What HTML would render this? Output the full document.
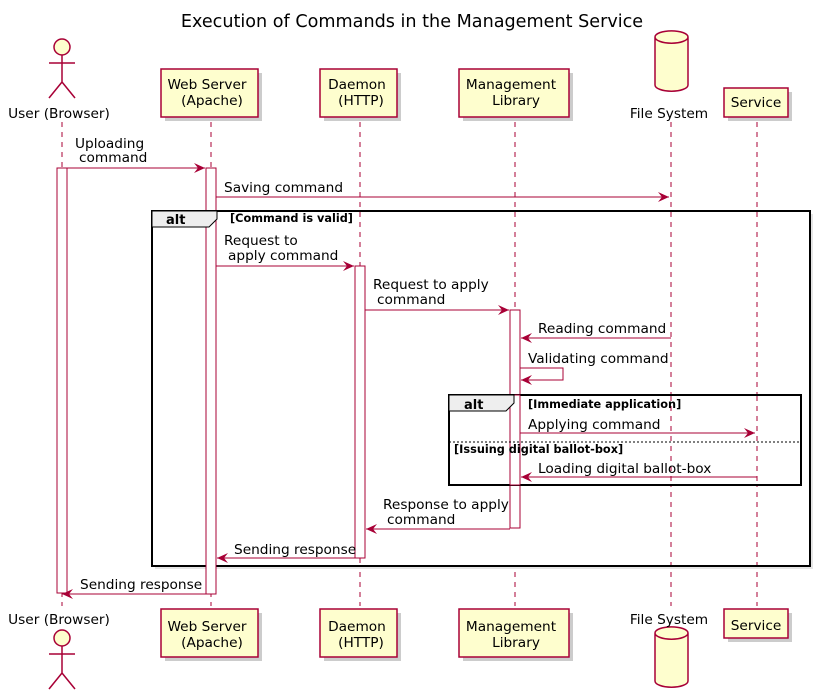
<!DOCTYPE html>
<html><head><meta charset="utf-8"><style>body{margin:0;background:#fff}svg{display:block}text{font-family:"DejaVu Sans","Liberation Sans",sans-serif;font-size:13.7px;fill:#000}</style></head><body>
<svg width="821" height="698" viewBox="0 0 821 698" xmlns="http://www.w3.org/2000/svg">
<defs>
<marker id="a" markerWidth="12" markerHeight="10" refX="11" refY="5" orient="auto" markerUnits="userSpaceOnUse"><path d="M0,0 L11,5 L0,10 L4,5 Z" fill="#A80036"/></marker>
</defs>
<text x="412" y="27" text-anchor="middle" style="font-size:17.6px">Execution of Commands in the Management Service</text>
<g stroke="#A80036" stroke-dasharray="5,5" stroke-width="1">
<line x1="62" y1="122" x2="62" y2="606"/><line x1="211" y1="122" x2="211" y2="606"/><line x1="360" y1="122" x2="360" y2="606"/><line x1="515" y1="122" x2="515" y2="606"/><line x1="671" y1="122" x2="671" y2="606"/><line x1="757" y1="122" x2="757" y2="606"/>
</g>
<g stroke="#A80036" stroke-width="1.5" fill="#FEFECE">
<g fill="#ccc" stroke="none"><rect x="165" y="73" width="97" height="48"/><rect x="324" y="73" width="77" height="48"/><rect x="463" y="73" width="110" height="48"/><rect x="728" y="92" width="64" height="29"/>
<rect x="165" y="613" width="97" height="48"/><rect x="324" y="613" width="77" height="48"/><rect x="463" y="613" width="110" height="48"/><rect x="728" y="613" width="64" height="29"/></g>
<rect x="161" y="69" width="97" height="48"/><rect x="320" y="69" width="77" height="48"/><rect x="459" y="69" width="110" height="48"/><rect x="724" y="88" width="64" height="29"/>
<rect x="161" y="609" width="97" height="48"/><rect x="320" y="609" width="77" height="48"/><rect x="459" y="609" width="110" height="48"/><rect x="724" y="609" width="64" height="29"/>
<path d="M655,37 v48 a16,6 0 0 0 33,0 v-48 a16,6 0 0 0 -33,0 a16,6 0 0 0 33,0"/>
<path d="M655,633 v48 a16,6 0 0 0 33,0 v-48 a16,6 0 0 0 -33,0 a16,6 0 0 0 33,0"/>
<circle cx="62" cy="47" r="8"/><path d="M62,55 v27 M49,63 h26 M62,82 l-13,16 M62,82 l13,16" fill="none"/>
<circle cx="62" cy="638" r="8"/><path d="M62,646 v27 M49,654 h26 M62,673 l-13,16 M62,673 l13,16" fill="none"/>
</g>
<text x="59" y="118" text-anchor="middle">User (Browser)</text>
<text x="59" y="624" text-anchor="middle">User (Browser)</text>
<text x="207" y="89" text-anchor="middle">Web Server</text><text x="212" y="105" text-anchor="middle">(Apache)</text>
<text x="357" y="89" text-anchor="middle">Daemon</text><text x="361" y="105" text-anchor="middle">(HTTP)</text>
<text x="511" y="89" text-anchor="middle">Management</text><text x="516" y="105" text-anchor="middle">Library</text>
<text x="756" y="107" text-anchor="middle">Service</text>
<text x="207" y="631" text-anchor="middle">Web Server</text><text x="212" y="647" text-anchor="middle">(Apache)</text>
<text x="357" y="631" text-anchor="middle">Daemon</text><text x="361" y="647" text-anchor="middle">(HTTP)</text>
<text x="511" y="631" text-anchor="middle">Management</text><text x="516" y="647" text-anchor="middle">Library</text>
<text x="756" y="630" text-anchor="middle">Service</text>
<text x="669" y="118" text-anchor="middle">File System</text>
<text x="669" y="624" text-anchor="middle">File System</text>
<g fill="#fff" stroke="#A80036" stroke-width="1">
<rect x="57" y="168" width="10" height="425"/><rect x="206" y="168" width="10" height="426"/>
</g>
<rect x="155" y="214" width="658" height="355" fill="#ccc" opacity="0.5"/>
<rect x="152" y="211" width="658" height="355" fill="#fff" stroke="#000" stroke-width="2"/>
<g fill="#fff" stroke="#A80036" stroke-width="1"><rect x="206" y="211" width="10" height="383"/><rect x="355" y="266" width="10" height="292"/><rect x="510" y="310" width="10" height="218"/></g>
<g stroke="#A80036" stroke-dasharray="5,5"><line x1="360" y1="212" x2="360" y2="266"/><line x1="515" y1="212" x2="515" y2="310"/><line x1="671" y1="212" x2="671" y2="565"/><line x1="757" y1="212" x2="757" y2="565"/><line x1="360" y1="558" x2="360" y2="565"/></g>
<path d="M152,211 H217 V219 L209,227 H152 Z" fill="#EEEEEE" stroke="#000" stroke-width="1"/>
<text x="166" y="224" style="font-weight:bold;font-size:13px">alt</text>
<text x="230" y="222" style="font-weight:bold;font-size:11.3px">[Command is valid]</text>
<rect x="452" y="398" width="349" height="87" fill="#ccc"/>
<rect x="449" y="395" width="352" height="90" fill="#fff" stroke="#000" stroke-width="2"/>
<rect x="510" y="395" width="10" height="90" fill="#fff" stroke="#A80036"/>
<g stroke="#A80036" stroke-dasharray="5,5"><line x1="671" y1="396" x2="671" y2="484"/><line x1="757" y1="396" x2="757" y2="484"/></g>
<path d="M449,395 H514 V403 L506,411 H449 Z" fill="#EEEEEE" stroke="#000" stroke-width="1"/>
<text x="464" y="409" style="font-weight:bold;font-size:13px">alt</text>
<text x="528" y="408" style="font-weight:bold;font-size:11.3px">[Immediate application]</text>
<line x1="449" y1="442" x2="801" y2="442" stroke="#000" stroke-dasharray="2,2"/>
<text x="454" y="453" style="font-weight:bold;font-size:11.3px">[Issuing digital ballot-box]</text>
<g stroke="#A80036" stroke-width="1" fill="none" marker-end="url(#a)">
<line x1="67" y1="168" x2="205" y2="168"/>
<line x1="216" y1="197" x2="669" y2="197"/>
<line x1="216" y1="266" x2="354" y2="266"/>
<line x1="365" y1="310" x2="509" y2="310"/>
<line x1="671" y1="338" x2="521" y2="338"/>
<path d="M520,368 H563 V380 H521"/>
<line x1="520" y1="433" x2="755" y2="433"/>
<line x1="757" y1="477" x2="521" y2="477"/>
<line x1="510" y1="529" x2="366" y2="529"/>
<line x1="355" y1="558" x2="217" y2="558"/>
<line x1="206" y1="594" x2="62" y2="594"/>
</g>
<text x="75" y="148">Uploading</text><text x="79" y="162">command</text>
<text x="224" y="192">Saving command</text>
<text x="224" y="245">Request to</text><text x="228" y="260">apply command</text>
<text x="373" y="289">Request to apply</text><text x="377" y="304">command</text>
<text x="538" y="333">Reading command</text>
<text x="528" y="363">Validating command</text>
<text x="528" y="429">Applying command</text>
<text x="538" y="473">Loading digital ballot-box</text>
<text x="383" y="509">Response to apply</text><text x="387" y="524">command</text>
<text x="234" y="554">Sending response</text>
<text x="80" y="589">Sending response</text>
</svg>
</body></html>
